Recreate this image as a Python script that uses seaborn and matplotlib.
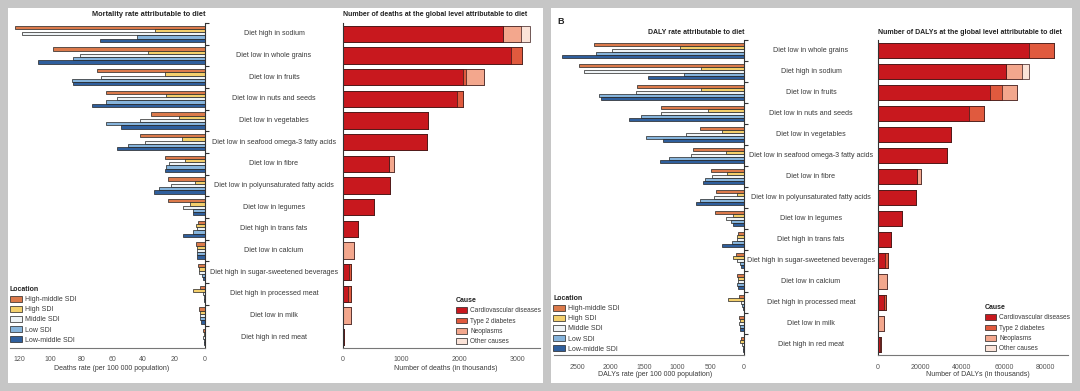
import matplotlib
matplotlib.use("Agg")
import matplotlib.pyplot as plt
import matplotlib.transforms as mtransforms
from matplotlib.patches import Patch, Rectangle
import numpy as np
import pandas as pd
import seaborn as sns

# ---- panel A: deaths ----
diets_a = [
    "Diet high in sodium", "Diet low in whole grains", "Diet low in fruits",
    "Diet low in nuts and seeds", "Diet low in vegetables",
    "Diet low in seafood omega-3 fatty acids", "Diet low in fibre",
    "Diet low in polyunsaturated fatty acids", "Diet low in legumes",
    "Diet high in trans fats", "Diet low in calcium",
    "Diet high in sugar-sweetened beverages", "Diet high in processed meat",
    "Diet low in milk", "Diet high in red meat",
]
high_middle_a = [123, 98, 70, 64, 35, 42, 26, 24, 24, 4.5, 5.5, 4.5, 3, 4, 1]
high_a = [32, 37, 26, 25, 17, 15, 13, 6.5, 10, 5.5, 5, 4, 8, 3, 0.8]
middle_a = [118, 81, 67, 57, 42, 39, 23, 22, 14, 5, 5, 3.8, 1, 3.5, 1]
low_a = [44, 85, 86, 64, 64, 50, 25, 30, 8, 8, 5, 2, 0.7, 3, 0.5]
low_middle_a = [68, 108, 85, 73, 54, 57, 26, 33, 8, 14, 5, 1.5, 0.5, 2.5, 0.5]

cvd_a = [2740, 2890, 2061, 1954, 1465, 1448, 784, 800, 534, 255, 0, 110, 92, 0, 15]
t2d_a = [0, 182, 57, 113, 0, 0, 0, 0, 0, 0, 0, 21, 38, 0, 8]
neo_a = [310, 0, 307, 0, 0, 0, 90, 0, 0, 0, 187, 0, 0, 131, 0]
other_a = [150, 0, 0, 0, 0, 0, 0, 0, 0, 0, 0, 0, 0, 0, 0]

# ---- panel B: DALYs ----
diets_b = [
    "Diet low in whole grains", "Diet high in sodium", "Diet low in fruits",
    "Diet low in nuts and seeds", "Diet low in vegetables",
    "Diet low in seafood omega-3 fatty acids", "Diet low in fibre",
    "Diet low in polyunsaturated fatty acids", "Diet low in legumes",
    "Diet high in trans fats", "Diet high in sugar-sweetened beverages",
    "Diet low in calcium", "Diet high in processed meat",
    "Diet low in milk", "Diet high in red meat",
]
high_middle_b = [2245, 2470, 1597, 1248, 659, 758, 494, 424, 434, 85, 120, 100, 80, 80, 45]
high_b = [958, 649, 639, 534, 334, 269, 250, 110, 170, 110, 170, 95, 235, 60, 55]
middle_b = [1971, 2390, 1621, 1243, 873, 798, 484, 449, 269, 110, 110, 95, 40, 70, 30]
low_b = [2220, 898, 2166, 1542, 1467, 1123, 584, 659, 195, 185, 60, 100, 25, 65, 15]
low_middle_b = [2729, 1432, 2141, 1717, 1208, 1257, 609, 719, 170, 330, 50, 85, 20, 60, 15]

cvd_b = [72000, 60900, 53300, 43400, 34800, 32900, 18600, 18300, 11450, 6400, 3200, 0, 2850, 0, 900]
t2d_b = [12150, 0, 6000, 7300, 0, 0, 0, 0, 0, 0, 1400, 0, 950, 0, 700]
neo_b = [0, 7800, 7000, 0, 0, 0, 2100, 0, 0, 0, 0, 4150, 0, 3050, 0]
other_b = [0, 3200, 0, 0, 0, 0, 0, 0, 0, 0, 0, 0, 0, 0, 0]

locations = ["High-middle SDI", "High SDI", "Middle SDI", "Low SDI", "Low-middle SDI"]
causes = ["Cardiovascular diseases", "Type 2 diabetes", "Neoplasms", "Other causes"]

loc_palette = {
    "High-middle SDI": "#dc7a4b",
    "High SDI": "#f3cf6c",
    "Middle SDI": "#eef3f6",
    "Low SDI": "#86b4dc",
    "Low-middle SDI": "#2f5f9d",
}
cause_palette = {
    "Cardiovascular diseases": "#c8181e",
    "Type 2 diabetes": "#e05a3e",
    "Neoplasms": "#f3a78d",
    "Other causes": "#fbe3d8",
}

W, H = 1080, 391
TEXT = "#3a3a3a"
FS = 5.0

sns.set_style("white")
plt.rcParams["font.family"] = ["Liberation Sans", "DejaVu Sans"]
plt.rcParams["font.size"] = FS
plt.rcParams["text.color"] = TEXT


def box(left, top, right, bottom):
    return [left / W, 1 - bottom / H, (right - left) / W, (bottom - top) / H]


def rate_frame(diets, series):
    rows = []
    for loc, values in zip(locations, series):
        for diet, v in zip(diets, values):
            rows.append({"diet": diet, "location": loc, "rate": v})
    return pd.DataFrame(rows)


def style_axis(ax, side, pad):
    for s in ["top", "left", "right", "bottom"]:
        ax.spines[s].set_visible(False)
    ax.spines["bottom"].set_visible(True)
    ax.spines[side].set_visible(True)
    ax.spines["bottom"].set_color("#777777")
    ax.spines[side].set_color("#333333")
    for s in ["bottom", side]:
        ax.spines[s].set_linewidth(0.8)
    ax.set_ylim(14.5, -0.5)
    ax.set_yticks(np.arange(-0.5, 14, 1))
    ax.set_yticklabels([])
    ax.set_ylabel("")
    ax.set_xlabel("")
    ax.tick_params(axis="y", length=3, width=0.8, color="#333333")
    ax.tick_params(axis="x", length=0, pad=pad, labelsize=FS, labelcolor="#555555")
    if side == "right":
        ax.yaxis.tick_right()
    ax.set_facecolor("none")
    ax.set_zorder(3)


def draw_rates(ax, diets, series, xmax, ticks, pad):
    df = rate_frame(diets, series)
    sns.barplot(
        data=df, x="rate", y="diet", hue="location", order=diets,
        hue_order=locations, palette=loc_palette, orient="h", width=0.74,
        edgecolor="#222222", linewidth=0.5, legend=False, saturation=1, ax=ax,
    )
    ax.set_xlim(xmax, 0)
    ax.set_xticks(ticks)
    ax.set_xticklabels([str(t) for t in ticks])
    style_axis(ax, "right", pad)


def draw_causes(ax, diets, parts, xmax, ticks, pad):
    cum = np.cumsum(np.array(parts, dtype=float), axis=0)
    for i in range(len(causes) - 1, -1, -1):
        sns.barplot(
            x=cum[i], y=diets, color=cause_palette[causes[i]], orient="h",
            width=0.75, edgecolor="#3a1a1a", linewidth=0.5, ax=ax,
            saturation=1,
        )
    ax.set_xlim(0, xmax)
    ax.set_xticks(ticks)
    ax.set_xticklabels([str(t) for t in ticks])
    style_axis(ax, "left", pad)


def add_legend(ax, title, labels, palette, x, y, size, spacing):
    handles = [
        Patch(facecolor=palette[l], edgecolor="#222222", linewidth=0.5, label=l)
        for l in labels
    ]
    leg = ax.legend(
        handles=handles, title=title, loc="upper left",
        bbox_to_anchor=(x / W, 1 - y / H), bbox_transform=ax.figure.transFigure,
        frameon=False, fontsize=size, title_fontsize=5.0,
        handlelength=1.75, handleheight=0.95, handletextpad=0.4,
        labelspacing=spacing, borderpad=0, borderaxespad=0, alignment="left",
    )
    for t in leg.get_texts():
        t.set_color(TEXT)
    leg.get_title().set_color("#222222")
    leg.get_title().set_fontweight("bold")


def category_labels(fig, ax, diets, xc):
    trans = mtransforms.blended_transform_factory(fig.transFigure, ax.transData)
    for i, d in enumerate(diets):
        fig.text(xc / W, i, d, transform=trans, ha="center", va="center",
                 fontsize=FS + 0.1, color=TEXT)


fig = plt.figure(figsize=(W / 100, H / 100), dpi=100, facecolor="#c6c6c6")
fig.patches.append(Rectangle((8 / W, 1 - 383 / H), 535 / W, 375 / H,
                             transform=fig.transFigure, facecolor="white",
                             edgecolor="none", zorder=-5))
fig.patches.append(Rectangle((551 / W, 1 - 383 / H), 521 / W, 375 / H,
                             transform=fig.transFigure, facecolor="white",
                             edgecolor="none", zorder=-5))

# panel A
ax_al = fig.add_axes(box(10, 23, 205, 348))
draw_rates(ax_al, diets_a, [high_middle_a, high_a, middle_a, low_a, low_middle_a],
           126, [0, 20, 40, 60, 80, 100, 120], 5.5)
ax_ar = fig.add_axes(box(343, 23, 540, 348))
draw_causes(ax_ar, diets_a, [cvd_a, t2d_a, neo_a, other_a], 3380,
            [0, 1000, 2000, 3000], 5.5)
category_labels(fig, ax_ar, diets_a, 274)

# panel B
ax_bl = fig.add_axes(box(554, 40, 744, 355))
draw_rates(ax_bl, diets_b, [high_middle_b, high_b, middle_b, low_b, low_middle_b],
           2845, [0, 500, 1000, 1500, 2000, 2500], 6.5)
ax_br = fig.add_axes(box(878, 40, 1068, 355))
draw_causes(ax_br, diets_b, [cvd_b, t2d_b, neo_b, other_b], 90600,
            [0, 20000, 40000, 60000, 80000], 6.5)
category_labels(fig, ax_br, diets_b, 811)

# titles
title_kw = dict(va="center", fontsize=5.0, fontweight="bold", color="#222222")
fig.text(205 / W, 1 - 15 / H, "Mortality rate attributable to diet", ha="right",
         **{**title_kw, "fontsize": 5.3})
fig.text(343 / W, 1 - 15 / H, "Number of deaths at the global level attributable to diet",
         ha="left", **title_kw)
fig.text(744 / W, 1 - 32 / H, "DALY rate attributable to diet", ha="right", **title_kw)
fig.text(878 / W, 1 - 32 / H, "Number of DALYs at the global level attributable to diet",
         ha="left", **title_kw)
fig.text(557 / W, 1 - 21 / H, "B", ha="left", va="center", fontsize=6.5,
         fontweight="bold", color="#222222")

# axis labels
fig.text(112 / W, 1 - 368 / H, "Deaths rate (per 100 000 population)", ha="center",
         va="center", fontsize=FS, color=TEXT)
fig.text(446 / W, 1 - 368 / H, "Number of deaths (in thousands)", ha="center",
         va="center", fontsize=FS, color=TEXT)
fig.text(655 / W, 1 - 374 / H, "DALYs rate (per 100 000 population)", ha="center",
         va="center", fontsize=FS, color=TEXT)
fig.text(978 / W, 1 - 374 / H, "Number of DALYs (in thousands)", ha="center",
         va="center", fontsize=FS, color=TEXT)

# legends
add_legend(ax_al, "Location", locations, loc_palette, 10, 286, 5.0, 0.4)
add_legend(ax_ar, "Cause", causes, cause_palette, 456, 297, 4.7, 0.5)
add_legend(ax_bl, "Location", locations, loc_palette, 553, 295, 5.0, 0.4)
add_legend(ax_br, "Cause", causes, cause_palette, 985, 304, 4.7, 0.5)

fig.savefig("out.png", dpi=100, facecolor=fig.get_facecolor())
